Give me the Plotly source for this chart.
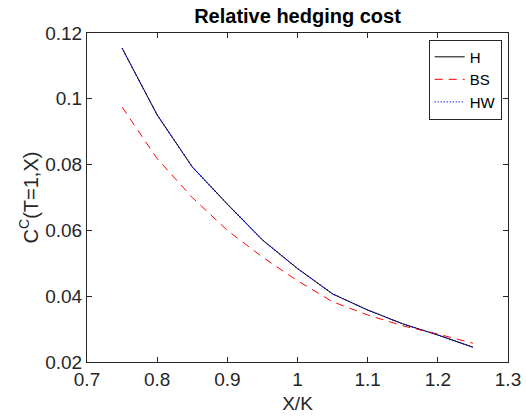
import plotly.graph_objects as go

x_vals = [0.75, 0.8, 0.85, 0.9, 0.95, 1.0, 1.05, 1.1, 1.15, 1.2, 1.25]
h_vals = [0.1154, 0.0951, 0.0793, 0.0680, 0.0571, 0.0484, 0.0407, 0.0358, 0.0316, 0.0282, 0.0245]
bs_vals = [0.0975, 0.0818, 0.0700, 0.0600, 0.0519, 0.0447, 0.0383, 0.0343, 0.0310, 0.0285, 0.0257]
hw_vals = [0.1154, 0.0951, 0.0793, 0.0680, 0.0571, 0.0484, 0.0407, 0.0358, 0.0316, 0.0282, 0.0245]

x_ticks = [0.7, 0.8, 0.9, 1.0, 1.1, 1.2, 1.3]
x_ticktext = ["0.7", "0.8", "0.9", "1", "1.1", "1.2", "1.3"]
y_ticks = [0.02, 0.04, 0.06, 0.08, 0.10, 0.12]
y_ticktext = ["0.02", "0.04", "0.06", "0.08", "0.1", "0.12"]

fig = go.Figure()
fig.add_trace(go.Scatter(x=x_vals, y=h_vals, mode="lines", name="H",
                         line=dict(color="black", width=1)))
fig.add_trace(go.Scatter(x=x_vals, y=bs_vals, mode="lines", name="BS",
                         line=dict(color="red", width=1, dash="8px,6px")))
fig.add_trace(go.Scatter(x=x_vals, y=hw_vals, mode="lines", name="HW",
                         line=dict(color="blue", width=1.3, dash="1px,2px")))

axis_common = dict(showline=True, linecolor="#262626", linewidth=1, mirror="ticks",
                   ticks="inside", ticklen=5, tickcolor="#262626", showgrid=False,
                   zeroline=False, automargin=False, tickfont=dict(size=19, color="#262626"))

fig.update_layout(
    width=526, height=418,
    margin=dict(l=87, r=18, t=33, b=56, autoexpand=False),
    paper_bgcolor="white", plot_bgcolor="white",
    font=dict(family="Liberation Sans, Arial, sans-serif", color="#262626"),
    title=dict(text="<b>Relative hedging cost</b>", x=0.5, xref="paper", xanchor="center",
               y=1 - 16 / 418, yref="container", yanchor="middle",
               font=dict(size=20, color="black")),
    xaxis=dict(range=[0.7, 1.3], tickvals=x_ticks, ticktext=x_ticktext,
               title=dict(text="X/K", font=dict(size=19), standoff=7), **axis_common),
    yaxis=dict(range=[0.02, 0.12], tickvals=y_ticks, ticktext=y_ticktext,
               title=dict(text="C<sup>C</sup>(T=1,X)", font=dict(size=20), standoff=1), **axis_common),
    legend=dict(x=0.985, y=0.98, xanchor="right", yanchor="top",
                bordercolor="#262626", borderwidth=1, bgcolor="white",
                font=dict(size=15, color="black"), tracegroupgap=0, itemwidth=30),
    showlegend=True,
)

fig.write_html("out.html", config={"displayModeBar": False},
               post_script="document.body.style.margin='0';document.body.style.overflow='hidden';")
